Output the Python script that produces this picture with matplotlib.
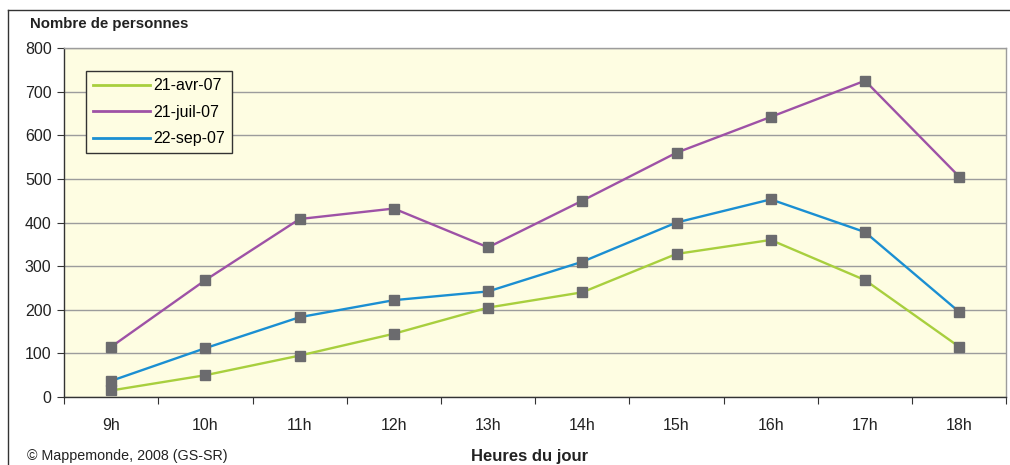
import numpy as np
import matplotlib.pyplot as plt
from matplotlib.lines import Line2D

plt.rcParams['font.family'] = ['Liberation Sans', 'DejaVu Sans']

heures = ["9h", "10h", "11h", "12h", "13h", "14h", "15h", "16h", "17h", "18h"]
avr_07 = [15, 50, 95, 145, 205, 240, 328, 360, 268, 115]
juil_07 = [115, 268, 408, 432, 343, 450, 560, 642, 725, 505]
sep_07 = [37, 112, 183, 222, 242, 310, 400, 453, 378, 195]

series = [
    ("21-avr-07", avr_07, "#a8cf3e"),
    ("21-juil-07", juil_07, "#9e52a6"),
    ("22-sep-07", sep_07, "#1b8fd2"),
]

fig = plt.figure(figsize=(10.1, 4.65), dpi=100)
ax = fig.add_axes([0.0634, 0.1462, 0.933, 0.7506])
ax.set_facecolor("#fefde2")

x = np.arange(len(heures))
for label, vals, col in series:
    ax.plot(x, vals, color=col, lw=1.7, zorder=3)
    ax.plot(x, vals, ls="none", marker="s", ms=7, mfc="#6b6b6e", mec="#6b6b6e", zorder=4)

ax.set_xlim(-0.5, len(heures) - 0.5)
ax.set_ylim(0, 800)
ax.set_yticks(range(0, 801, 100))
ax.yaxis.grid(True, color="#9c9c9c", lw=1.0)
ax.set_axisbelow(True)

ax.set_xticks(np.arange(-0.5, len(heures), 1.0))
ax.set_xticklabels([])
ax.set_xticks(x, minor=True)
ax.set_xticklabels(heures, minor=True)
ax.tick_params(axis="x", which="minor", length=0, pad=15, labelsize=11.5, colors="#222222")
ax.tick_params(axis="x", which="major", length=5, direction="out", color="#333333")
ax.tick_params(axis="y", length=5, direction="out", color="#333333", labelsize=11.5,
               labelcolor="#222222", pad=4)

for side in ["top", "right"]:
    ax.spines[side].set_color("#9c9c9c")
for side in ["left", "bottom"]:
    ax.spines[side].set_color("#333333")
for s in ax.spines.values():
    s.set_linewidth(1.0)

handles = [Line2D([], [], color=c, lw=2) for _, _, c in series]
leg = ax.legend(handles, [s[0] for s in series], loc="upper left",
                bbox_to_anchor=(0.023, 0.934), frameon=True, fancybox=False,
                fontsize=11.5, handlelength=3.6, handletextpad=0.15,
                labelspacing=0.72, borderpad=0.45, borderaxespad=0)
leg.get_frame().set_edgecolor("#333333")
leg.get_frame().set_facecolor("#fefde2")
leg.get_frame().set_linewidth(1.0)
leg.get_frame().set_alpha(1)

fig.text(0.030, 0.948, "Nombre de personnes", fontsize=10.8, fontweight="bold",
         color="#222222", va="center")
fig.text(0.524, 0.019, "Heures du jour", fontsize=12, fontweight="bold",
         color="#222222", ha="center", va="center")
fig.text(0.027, 0.019, "\u00a9 Mappemonde, 2008 (GS-SR)", fontsize=10.3,
         color="#222222", va="center")

# outer frame
fig.add_artist(Line2D([0.008, 1.0], [0.979, 0.979], transform=fig.transFigure,
                      color="#333333", lw=1.0))
fig.add_artist(Line2D([0.008, 0.008], [0.0, 0.979], transform=fig.transFigure,
                      color="#333333", lw=1.0))

fig.savefig("out.png", dpi=100)
